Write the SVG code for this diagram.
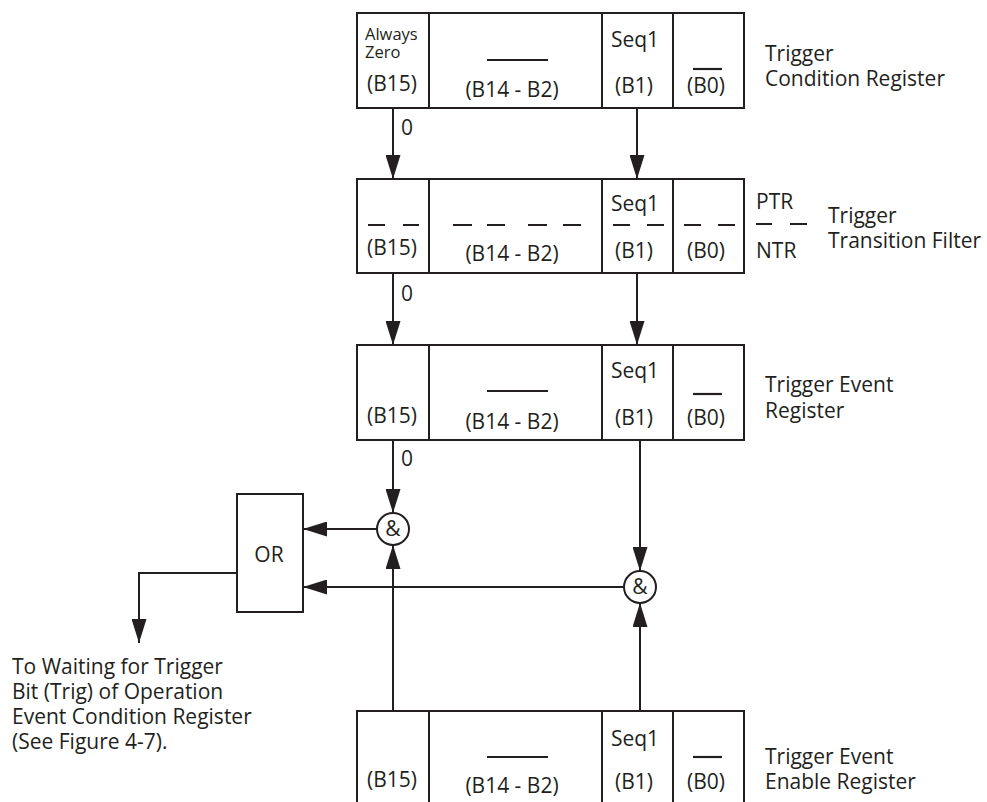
<svg xmlns="http://www.w3.org/2000/svg" width="987" height="802" viewBox="0 0 987 802">
<style>
.t{font-family:"Open Sans","DejaVu Sans",sans-serif;font-size:21px;fill:#231f20}
.s{font-size:16.5px}
.m{text-anchor:middle}
.box{fill:#fff;stroke:#231f20;stroke-width:2}
.ln{fill:none;stroke:#231f20;stroke-width:2}
.bar{fill:none;stroke:#231f20;stroke-width:2.2}
</style>
<defs>
<marker id="ah" viewBox="0 0 24 15" refX="24" refY="7.5" markerWidth="24" markerHeight="15" markerUnits="userSpaceOnUse" orient="auto">
<path d="M0,0 L24,7.5 L0,15 Z" fill="#231f20"/>
</marker>
</defs>
<g id="connectors">
<path class="ln" d="M393,108 V179" marker-end="url(#ah)"/>
<path class="ln" d="M637,108 V179" marker-end="url(#ah)"/>
<path class="ln" d="M393,273 V345" marker-end="url(#ah)"/>
<path class="ln" d="M637,273 V345" marker-end="url(#ah)"/>
<path class="ln" d="M393,440 V513" marker-end="url(#ah)"/>
<path class="ln" d="M640,440 V571" marker-end="url(#ah)"/>
<path class="ln" d="M393,711 V545" marker-end="url(#ah)"/>
<path class="ln" d="M640,711 V603" marker-end="url(#ah)"/>
<path class="ln" d="M377,529 H303" marker-end="url(#ah)"/>
<path class="ln" d="M624,587 H303" marker-end="url(#ah)"/>
<path class="ln" d="M237,573 H139 V643" marker-end="url(#ah)"/>
<text class="t" x="401" y="135">0</text>
<text class="t" x="401" y="301">0</text>
<text class="t" x="401" y="466">0</text>
</g>
<g id="condition-register">
<rect class="box" x="357" y="13" width="387" height="95"/>
<path class="ln" d="M429,13 V108 M602,13 V108 M673,13 V108"/>
<text class="t s" x="365" y="40">Always</text>
<text class="t s" x="365" y="58">Zero</text>
<text class="t m" x="392" y="91">(B15)</text>
<path class="bar" d="M487,60 H548"/>
<text class="t m" x="512" y="97">(B14 - B2)</text>
<text class="t m" x="635" y="47">Seq1</text>
<text class="t m" x="634" y="93">(B1)</text>
<path class="bar" d="M693,69 H722"/>
<text class="t m" x="706" y="93">(B0)</text>
<text class="t" x="765" y="61">Trigger</text>
<text class="t" x="765" y="86">Condition Register</text>
</g>
<g id="transition-filter">
<rect class="box" x="357" y="179" width="387" height="94"/>
<path class="ln" d="M429,179 V273 M602,179 V273 M673,179 V273"/>
<path class="bar" d="M368,225 H385 M403,225 H419 M453,225 H472 M487,225 H505 M528,225 H547 M563,225 H581 M613,225 H630 M647,225 H664 M684,225 H701 M718,225 H735 M756,224 H772 M790,224 H807"/>
<text class="t m" x="392" y="255">(B15)</text>
<text class="t m" x="512" y="261">(B14 - B2)</text>
<text class="t m" x="635" y="211">Seq1</text>
<text class="t m" x="634" y="258">(B1)</text>
<text class="t m" x="706" y="258">(B0)</text>
<text class="t" x="756" y="209">PTR</text>
<text class="t" x="756" y="258">NTR</text>
<text class="t" x="828" y="223">Trigger</text>
<text class="t" x="828" y="248">Transition Filter</text>
</g>
<g id="event-register">
<rect class="box" x="357" y="345" width="387" height="95"/>
<path class="ln" d="M429,345 V440 M602,345 V440 M673,345 V440"/>
<text class="t m" x="392" y="423">(B15)</text>
<path class="bar" d="M487,391 H548"/>
<text class="t m" x="512" y="429">(B14 - B2)</text>
<text class="t m" x="635" y="378">Seq1</text>
<text class="t m" x="634" y="425">(B1)</text>
<path class="bar" d="M693,394 H722"/>
<text class="t m" x="706" y="425">(B0)</text>
<text class="t" x="765" y="392">Trigger Event</text>
<text class="t" x="765" y="418">Register</text>
</g>
<g id="and-1">
<circle class="box" cx="393" cy="529" r="16"/>
<text class="t m" x="393" y="536">&amp;</text>
</g>
<g id="and-2">
<circle class="box" cx="640" cy="587" r="16"/>
<text class="t m" x="640" y="594">&amp;</text>
</g>
<g id="or-gate">
<rect class="box" x="237" y="494" width="66" height="118"/>
<text class="t m" x="269" y="562">OR</text>
</g>
<g id="output-label">
<text class="t" x="12" y="674">To Waiting for Trigger</text>
<text class="t" x="12" y="699">Bit (Trig) of Operation</text>
<text class="t" x="12" y="724">Event Condition Register</text>
<text class="t" x="12" y="749">(See Figure 4-7).</text>
</g>
<g id="enable-register">
<rect class="box" x="357" y="711" width="387" height="96"/>
<path class="ln" d="M429,711 V807 M602,711 V807 M673,711 V807"/>
<text class="t m" x="392" y="787">(B15)</text>
<path class="bar" d="M487,757 H548"/>
<text class="t m" x="512" y="793">(B14 - B2)</text>
<text class="t m" x="635" y="746">Seq1</text>
<text class="t m" x="634" y="789">(B1)</text>
<path class="bar" d="M693,757 H722"/>
<text class="t m" x="706" y="789">(B0)</text>
<text class="t" x="765" y="764">Trigger Event</text>
<text class="t" x="765" y="789">Enable Register</text>
</g>
</svg>
